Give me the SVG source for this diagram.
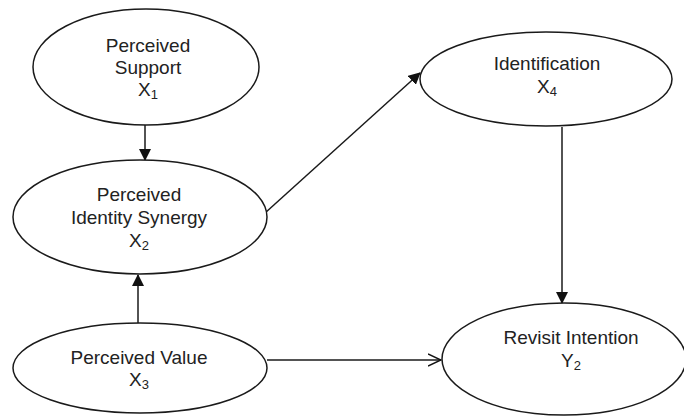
<svg xmlns="http://www.w3.org/2000/svg" width="684" height="416" viewBox="0 0 684 416">
<style>
.n{fill:#fff;stroke:#1a1a1a;stroke-width:1.5}
.t{font-family:"Liberation Sans",Arial,sans-serif;font-size:19px;fill:#222;text-anchor:middle}
.s{font-size:13px}
.c{stroke:#1a1a1a;stroke-width:1.5;fill:none}
</style>
<defs>
<marker id="f" viewBox="0 0 12 12" refX="11" refY="6" markerWidth="12" markerHeight="12" markerUnits="userSpaceOnUse" orient="auto">
<path d="M0,0 L12,6 L0,12 Z" fill="#111"/>
</marker>
<marker id="o" viewBox="0 0 14 14" refX="13" refY="7" markerWidth="14" markerHeight="14" markerUnits="userSpaceOnUse" orient="auto">
<path d="M0,1 L13,7 L0,13" fill="none" stroke="#111" stroke-width="1.5"/>
</marker>
</defs>
<rect width="684" height="416" fill="#fff"/>
<g id="connectors">
<line class="c" x1="145" y1="125" x2="145" y2="160" marker-end="url(#f)"/>
<line class="c" x1="138" y1="323" x2="138" y2="275" marker-end="url(#f)"/>
<line class="c" x1="265" y1="213" x2="420" y2="73" marker-end="url(#f)"/>
<line class="c" x1="562" y1="127" x2="562" y2="303" marker-end="url(#f)"/>
<line class="c" x1="267" y1="360" x2="441" y2="360" marker-end="url(#o)"/>
</g>
<g id="x1">
<ellipse class="n" cx="146" cy="67" rx="113" ry="58"/>
<text class="t" x="148" y="52">Perceived</text>
<text class="t" x="148" y="74">Support</text>
<text class="t" x="148" y="96">X<tspan class="s" dy="3">1</tspan></text>
</g>
<g id="x2">
<ellipse class="n" cx="140" cy="217" rx="127" ry="57"/>
<text class="t" x="139" y="201">Perceived</text>
<text class="t" x="139" y="224">Identity Synergy</text>
<text class="t" x="139" y="247">X<tspan class="s" dy="3">2</tspan></text>
</g>
<g id="x3">
<ellipse class="n" cx="140" cy="368" rx="127" ry="45"/>
<text class="t" x="139" y="364">Perceived Value</text>
<text class="t" x="139" y="386">X<tspan class="s" dy="3">3</tspan></text>
</g>
<g id="x4">
<ellipse class="n" cx="546" cy="79" rx="126" ry="47"/>
<text class="t" x="547" y="70">Identification</text>
<text class="t" x="547" y="93">X<tspan class="s" dy="3">4</tspan></text>
</g>
<g id="y2">
<ellipse class="n" cx="564" cy="359" rx="122" ry="56"/>
<text class="t" x="571" y="344">Revisit Intention</text>
<text class="t" x="571" y="367">Y<tspan class="s" dy="3">2</tspan></text>
</g>
</svg>
